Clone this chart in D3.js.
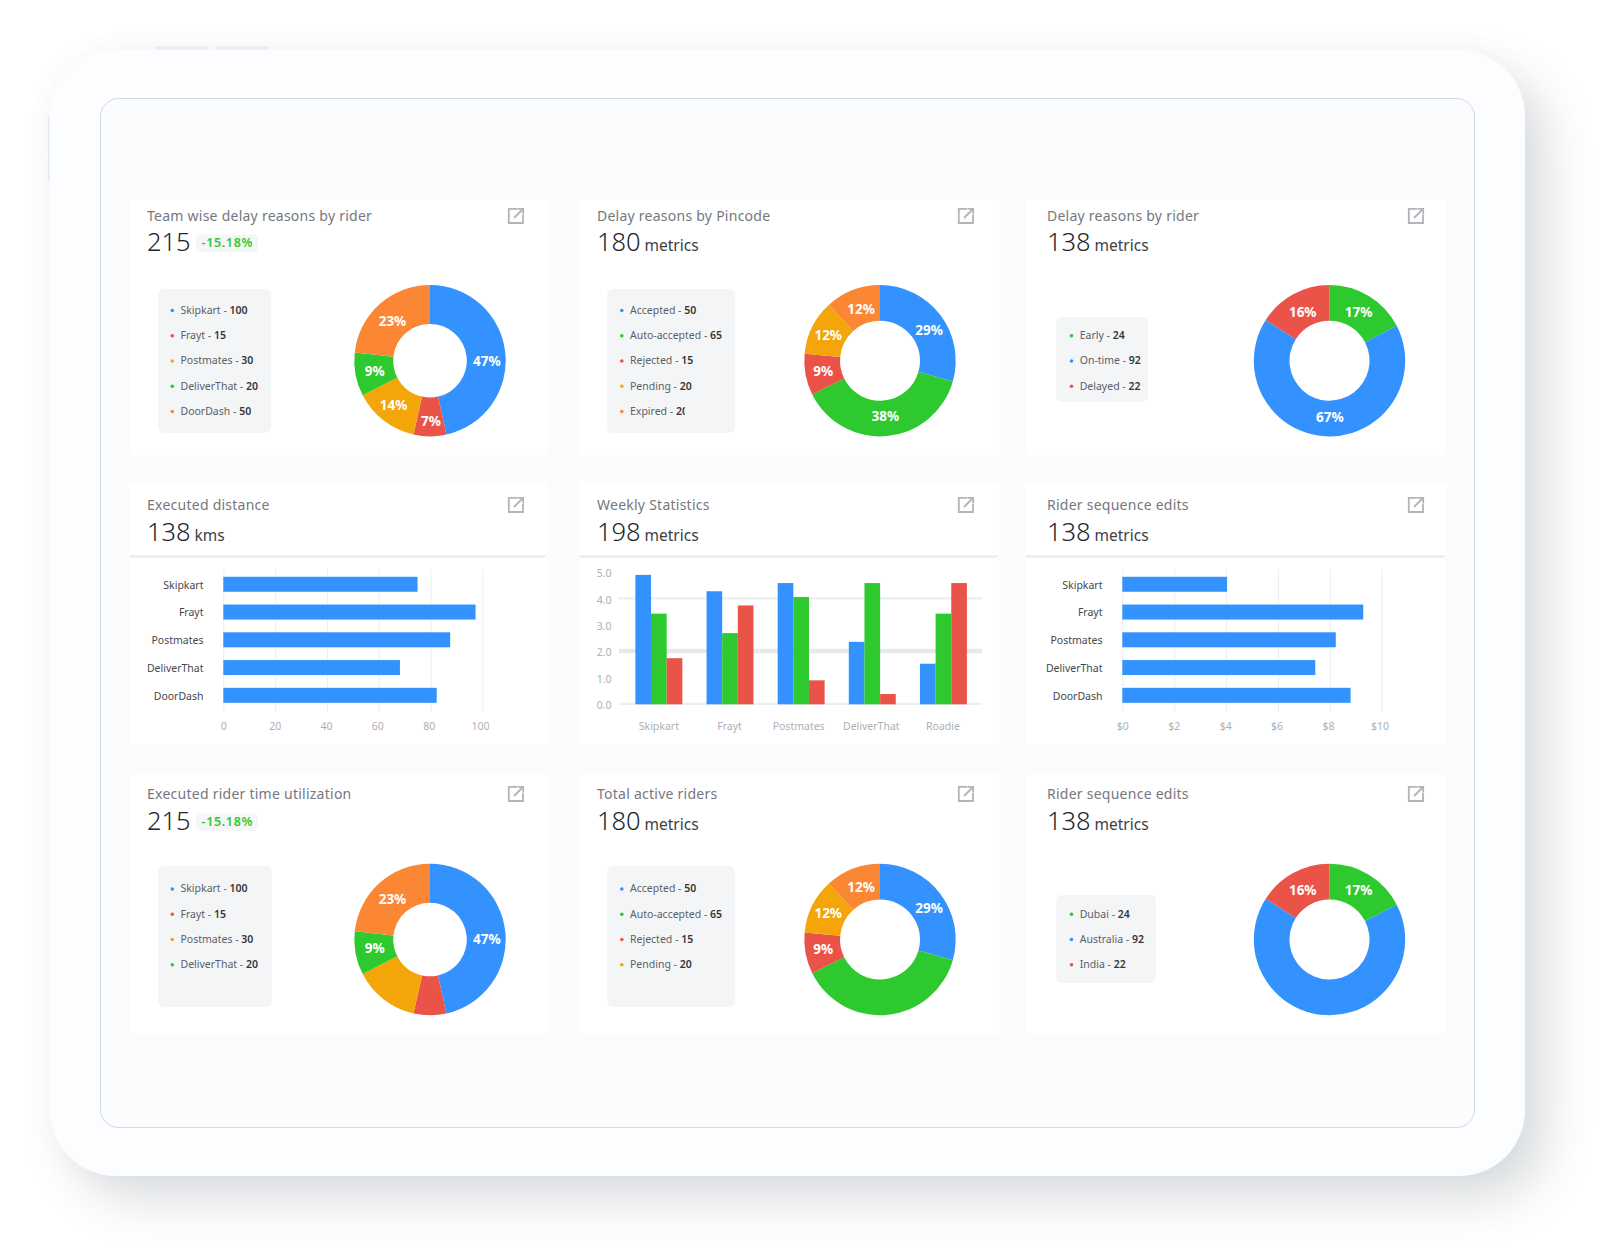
<!DOCTYPE html>
<html><head><meta charset="utf-8">
<script src="https://cdnjs.cloudflare.com/ajax/libs/d3/7.8.5/d3.min.js"></script>
<style>
html,body{margin:0;padding:0;background:#fff;overflow:hidden}
#device{position:absolute;left:50px;top:50px;width:1475px;height:1126px;border-radius:66px;background:#fcfdfe;
box-shadow:22px 24px 48px rgba(70,85,95,.20),0 0 40px rgba(90,100,120,.025)}
svg{position:absolute;left:0;top:0}
text{font-family:"Noto Sans",sans-serif}
</style></head><body>
<div id="device"></div>
<svg id="chart" width="1600" height="1256"></svg>
<script>
// ---- data ----
const riderNames   = ["Skipkart","Frayt","Postmates","DeliverThat","DoorDash"];
const riderCounts  = [100,15,30,20,50];
const statusNames  = ["Accepted","Auto-accepted","Rejected","Pending","Expired"];
const statusCounts = [50,65,15,20,20];
const timingNames  = ["Early","On-time","Delayed"];
const timingCounts = [24,92,22];
const regionNames  = ["Dubai","Australia","India"];
const distanceValues = [75,97.4,87.6,68.2,82.4];
const editValues     = [4.04,9.29,8.23,7.44,8.8];
const weekCats   = ["Skipkart","Frayt","Postmates","DeliverThat","Roadie"];
const weekBlue   = [4.89,4.27,4.58,2.35,1.52];
const weekGreen  = [3.42,2.68,4.05,4.58,3.42];
const weekRed    = [1.73,3.73,0.89,0.37,4.58];
const distanceTicks = [0,20,40,60,80,100];
const editTicks     = [0,2,4,6,8,10];
const weekTicks     = [0,1,2,3,4,5];
const weekGrid      = [0,2,4];

const BLUE="#3492fe",GREEN="#2ec92e",RED="#ea5348",AMBER="#f3a50a",ORANGE="#fb8735";
const riderColors=[BLUE,RED,AMBER,GREEN,ORANGE];
const statusColors=[BLUE,GREEN,RED,AMBER,ORANGE];
const timingColors=[GREEN,BLUE,RED];

const svg=d3.select("#chart");
const ink=svg.append("g");

// frame
ink.append("rect").attr("x",48).attr("y",117).attr("width",1.2).attr("height",63).attr("fill","#e4e7ee");
[[155,52],[217,52]].forEach(([x,w])=>ink.append("rect").attr("x",x).attr("y",46).attr("width",w).attr("height",4).attr("fill","#eceef3"));
ink.append("rect").attr("x",100.5).attr("y",98.5).attr("width",1374).attr("height",1029).attr("rx",18)
  .attr("fill","#fbfcfe").attr("stroke","#d5d8e0").attr("stroke-width",1);

const colX=[130,579.5,1026], colW=[416.5,419,419.5];
const rowTop=[199,483,774], rowBot=[455,745,1034];
const titleBase=[221,510,799], numBase=[251,540.7,829.7];
const textX=[147,597,1047], iconX=[508,958,1408];

function head(c,r,title,num,unit,badge){
  const g=ink.append("g");
  g.append("rect").attr("x",colX[c]).attr("y",rowTop[r]).attr("width",colW[c]).attr("height",rowBot[r]-rowTop[r]).attr("fill","#fff");
  g.append("text").attr("x",textX[c]).attr("y",titleBase[r]).attr("font-size",14).attr("letter-spacing",.25).attr("fill","#74787e").text(title);
  g.append("text").attr("x",textX[c]).attr("y",numBase[r]).attr("font-size",25.5).attr("font-weight",300).attr("fill","#22252a").text(num);
  if(unit) g.append("text").attr("x",textX[c]+47.5).attr("y",numBase[r]).attr("font-size",15.5).attr("fill","#3d4045").text(unit);
  if(badge){
    g.append("rect").attr("x",textX[c]+49).attr("y",numBase[r]-16.5).attr("width",62).attr("height",18).attr("rx",5).attr("fill","#f5f6f7");
    g.append("text").attr("x",textX[c]+54.5).attr("y",numBase[r]-4).attr("font-size",12.5).attr("font-weight",600).attr("letter-spacing",.65).attr("fill",GREEN).text(badge);
  }
  const ic=g.append("g").attr("transform",`translate(${iconX[c]},${titleBase[r]-13})`).attr("fill","none").attr("stroke","#b2b4b8").attr("stroke-width",1.8);
  ic.append("path").attr("d","M9 .8H.8V15H15V7");
  ic.append("path").attr("d","M6 10L15 1M9.5 .8H15.2V6.5");
}

function donut(c,r,names,counts,colors,hole,cy,shown,nudge,box,inset,rowYs,rows,clipRow){
  const cx=[430,880,1329.5][c];
  const total=d3.sum(counts);
  const pie=d3.pie().sort(null)(counts);
  const arc=d3.arc().innerRadius(hole).outerRadius(75.7);
  const mid=d3.arc().innerRadius((hole+75.7)/2).outerRadius((hole+75.7)/2);
  const g=ink.append("g").attr("transform",`translate(${cx},${cy})`);
  g.selectAll("path").data(pie).join("path").attr("d",arc).attr("fill",(d,i)=>colors[i]);
  g.selectAll("text").data(pie.filter(d=>shown.includes(d.index))).join("text")
    .attr("x",(d,i)=>mid.centroid(d)[0]+nudge[i][0]).attr("y",(d,i)=>mid.centroid(d)[1]+5+nudge[i][1])
    .attr("text-anchor","middle").attr("font-size",13.5).attr("font-weight",700).attr("fill","#fff")
    .text(d=>Math.round(d.data/total*100)+"%");
  const L=ink.append("g");
  L.append("rect").attr("x",box[0]).attr("y",box[1]).attr("width",box[2]).attr("height",box[3]).attr("rx",6).attr("fill","#f4f5f7");
  for(let i=0;i<rows;i++){
    const y=rowYs[i], px=box[0]+inset;
    L.append("circle").attr("cx",px).attr("cy",y).attr("r",1.8).attr("fill",colors[i]);
    const t=L.append("text").attr("x",px+8.2).attr("y",y+3.4).attr("font-size",10.5).attr("fill","#5b5f66");
    t.append("tspan").text(names[i]+" - ");
    t.append("tspan").attr("font-weight",600).attr("fill","#33363b").text(counts[i]);
    if(clipRow===i){
      const id="clip"+c+r;
      svg.append("clipPath").attr("id",id).append("rect").attr("x",box[0]).attr("y",y-10).attr("width",78).attr("height",20);
      t.attr("clip-path",`url(#${id})`);
    }
  }
}

const ROWS5=[310.5,335.8,361,386.2,411.5], ROWS3=[335.8,361,386.2];
const ROWB=[889,914.2,939.5,964.7], ROWB3=[914.2,939.5,964.7];

head(0,0,"Team wise delay reasons by rider","215",null,"-15.18%");
donut(0,0,riderNames,riderCounts,riderColors,36.8,360.7,[0,1,2,3,4],[[1,6],[1,4],[-2,0],[0,0],[0,2]],[158,289,113,144],14.3,ROWS5,5);
head(1,0,"Delay reasons by Pincode","180","metrics");
donut(1,0,statusNames,statusCounts,statusColors,40,360.7,[0,1,2,3,4],[[3,4],[0,-2],[0,0],[0,0],[2,2]],[607,289,128,144],14.8,ROWS5,5,4);
head(2,0,"Delay reasons by rider","138","metrics");
donut(2,0,timingNames,timingCounts,timingColors,40,360.7,[0,1,2],[[-1,1],[3,-1],[1,2]],[1056,317,92,85],15.5,ROWS3,3);

head(0,2,"Executed rider time utilization","215",null,"-15.18%");
donut(0,2,riderNames,riderCounts,riderColors,36.8,939.5,[0,3,4],[[1,6],[0,-2],[0,1]],[158,866,114,141],14.3,ROWB,4);
head(1,2,"Total active riders","180","metrics");
donut(1,2,statusNames,statusCounts,statusColors,40,939.5,[0,2,3,4],[[3,3],[0,-1],[0,-1],[2,1]],[607,866,128,141],14.8,ROWB,4);
head(2,2,"Rider sequence edits","138","metrics");
donut(2,2,regionNames,timingCounts,timingColors,40,939.5,[0,2],[[-1,0],[1,1]],[1056,895,100,88],15.5,ROWB3,3);

// bar charts
function hbar(c,title,unit,vals,ticks,x0,x1,fmt){
  head(c,1,title,"138",unit);
  ink.append("rect").attr("x",colX[c]).attr("y",555.3).attr("width",colW[c]-1).attr("height",2.4).attr("fill","#ececee");
  const x=d3.scaleLinear().domain([0,ticks[ticks.length-1]]).range([x0,x1]);
  const y=d3.scaleBand().domain(riderNames).range([570.4,709.2]).paddingInner(.46).paddingOuter(.23);
  const ax=ink.append("g").attr("transform","translate(0,711.7)")
    .call(d3.axisBottom(x).tickValues(ticks).tickFormat(fmt).tickSize(-142.7).tickPadding(10.5));
  ax.select(".domain").remove();
  ax.selectAll("line").attr("stroke","#eceef0");
  ax.selectAll("text").attr("font-size",10.5).attr("font-family","Noto Sans").attr("fill","#adb0b4")
    .attr("dx",(d,i)=>-i*.45);
  ink.append("g").selectAll("rect").data(vals).join("rect")
    .attr("x",x0).attr("y",(d,i)=>y(riderNames[i])).attr("width",d=>x(d)-x0).attr("height",y.bandwidth()).attr("fill",BLUE);
  const ay=ink.append("g").attr("transform",`translate(${x0-19.8},1)`).call(d3.axisLeft(y).tickSize(0).tickPadding(0));
  ay.select(".domain").remove();
  ay.selectAll("text").attr("font-size",10.5).attr("font-family","Noto Sans").attr("fill","#44474c");
}
hbar(0,"Executed distance","kms",distanceValues,distanceTicks,223.3,482.3,d=>d);
hbar(2,"Rider sequence edits","metrics",editValues,editTicks,1122.3,1381.7,d=>"$"+d);

// grouped columns
head(1,1,"Weekly Statistics","198","metrics");
ink.append("rect").attr("x",colX[1]).attr("y",555.3).attr("width",colW[1]-1).attr("height",2.4).attr("fill","#ececee");
const yW=d3.scaleLinear().domain([0,5]).range([703.8,572]);
const xW=d3.scaleBand().domain(weekCats).range([623.3,979]).paddingInner(.34).paddingOuter(.17);
const sub=d3.scaleBand().domain([0,1,2]).range([0,xW.bandwidth()]);
ink.append("g").selectAll("line").data(weekGrid).join("line")
  .attr("x1",619).attr("x2",982).attr("y1",d=>yW(d)).attr("y2",d=>yW(d))
  .attr("stroke",d=>d===2?"#e8e9ec":"#edeef0").attr("stroke-width",d=>d===2?4.5:2.2);
[weekBlue,weekGreen,weekRed].forEach((vals,k)=>{
  ink.append("g").selectAll("rect").data(vals).join("rect")
    .attr("x",(d,i)=>xW(weekCats[i])+sub(k)).attr("width",sub.bandwidth())
    .attr("y",d=>yW(d)).attr("height",d=>yW(0)-yW(d)+.5).attr("fill",[BLUE,GREEN,RED][k]);
});
const axX=ink.append("g").attr("transform","translate(0,711.7)").call(d3.axisBottom(xW).tickSize(0).tickPadding(10.5));
axX.select(".domain").remove();
axX.selectAll("text").attr("font-size",10.5).attr("font-family","Noto Sans").attr("fill","#adb0b4").attr("dx",(d,i)=>[0,-.5,-2.5,-1,-.5][i]);
const axY=ink.append("g").attr("transform","translate(611.5,0)").call(d3.axisLeft(yW).tickValues(weekTicks).tickFormat(d3.format(".1f")).tickSize(0).tickPadding(0));
axY.select(".domain").remove();
axY.selectAll("text").attr("font-size",10.5).attr("font-family","Noto Sans").attr("fill","#adb0b4").attr("dy","0.45em");
</script>
</body></html>
